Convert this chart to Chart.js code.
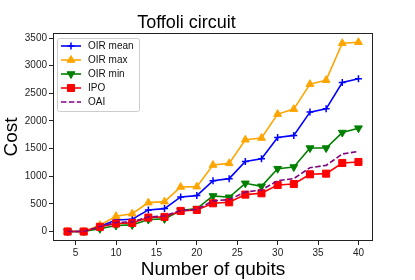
<!DOCTYPE html>
<html>
<head>
<meta charset="utf-8">
<script src="https://cdn.jsdelivr.net/npm/chart.js@4/dist/chart.umd.min.js"></script>
<style>
  body { margin: 0; background: #fff; }
</style>
</head>
<body>
<canvas id="chart" width="415" height="280"></canvas>
<script>
// number of qubits on the x axis
const qubits = [4, 6, 8, 10, 12, 14, 16, 18, 20, 22, 24, 26, 28, 30, 32, 34, 36, 38, 40];
const xTicks = [5, 10, 15, 20, 25, 30, 35, 40];
const yTicks = [0, 500, 1000, 1500, 2000, 2500, 3000, 3500];

// cost per method
const oirMean = [0, 0, 95, 210, 222, 391, 415, 626, 650, 920, 957, 1269, 1318, 1702, 1739, 2160, 2220, 2695, 2762];
const oirMax = [0, 0, 115, 277, 322, 523, 541, 806, 812, 1203, 1233, 1660, 1691, 2124, 2214, 2666, 2738, 3405, 3424];
const oirMin = [0, 0, 50, 110, 120, 217, 229, 379, 415, 644, 620, 872, 818, 1137, 1167, 1510, 1510, 1790, 1870];
const ipo = [0, 0, 85, 145, 156, 253, 265, 373, 391, 511, 529, 668, 692, 842, 860, 1035, 1047, 1240, 1258];
const oai = [0, 0, 90, 165, 175, 265, 280, 380, 400, 555, 578, 716, 752, 920, 957, 1155, 1197, 1402, 1450];

Chart.defaults.font.family = "'Liberation Sans', Arial, sans-serif";
Chart.defaults.color = '#222';

const toPoints = ys => ys.map((y, i) => ({ x: qubits[i], y: y }));

function series(label, data, color, style, radius, extra) {
  return Object.assign({
    label: label,
    data: toPoints(data),
    borderColor: color,
    backgroundColor: color,
    borderWidth: 1.6,
    pointStyle: style,
    pointRadius: radius,
    pointBorderWidth: 1,
    pointBackgroundColor: color,
    pointBorderColor: color,
    pointHoverRadius: radius,
    tension: 0
  }, extra || {});
}

const datasets = [
  series('OIR mean', oirMean, '#0000ff', 'cross', 3.5, { order: 5, pointBorderWidth: 1.5 }),
  series('OIR max', oirMax, '#ffa500', 'triangle', 4.5, { order: 4 }),
  series('OIR min', oirMin, '#008000', 'triangle', 4.5, { order: 3, pointRotation: 180 }),
  series('IPO', ipo, '#ff0000', 'rect', 5, { order: 2 }),
  series('OAI', oai, '#800080', false, 0, { order: 1, borderDash: [5.5, 2.4] })
];

// axes frame like matplotlib spines
const framePlugin = {
  id: 'frame',
  afterDatasetsDraw(chart) {
    const a = chart.chartArea, ctx = chart.ctx;
    ctx.save();
    ctx.strokeStyle = '#222';
    ctx.lineWidth = 1;
    ctx.strokeRect(a.left + 0.5, a.top + 0.5, a.right - a.left - 1, a.bottom - a.top - 1);
    ctx.restore();
  }
};

function marker(ctx, ds, x, y) {
  const r = ds.pointRadius;
  ctx.fillStyle = ds.pointBackgroundColor;
  ctx.strokeStyle = ds.pointBorderColor;
  ctx.lineWidth = ds.pointBorderWidth;
  ctx.setLineDash([]);
  ctx.beginPath();
  if (ds.pointStyle === 'rect') {
    const s = Math.SQRT1_2 * r;
    ctx.rect(x - s, y - s, 2 * s, 2 * s);
    ctx.fill(); ctx.stroke();
  } else if (ds.pointStyle === 'triangle') {
    const d = ds.pointRotation === 180 ? -1 : 1;
    ctx.moveTo(x, y - d * r);
    ctx.lineTo(x + r * 0.866, y + d * r * 0.5);
    ctx.lineTo(x - r * 0.866, y + d * r * 0.5);
    ctx.closePath();
    ctx.fill(); ctx.stroke();
  } else if (ds.pointStyle === 'cross') {
    ctx.moveTo(x - r, y); ctx.lineTo(x + r, y);
    ctx.moveTo(x, y - r); ctx.lineTo(x, y + r);
    ctx.stroke();
  }
}

// legend drawn inside the axes, upper left
const legendPlugin = {
  id: 'innerLegend',
  afterDraw(chart) {
    const ctx = chart.ctx;
    const bx = 57, by = 38, bw = 82, bh = 73;
    ctx.save();
    ctx.fillStyle = 'rgba(255,255,255,0.85)';
    ctx.strokeStyle = '#cccccc';
    ctx.lineWidth = 1;
    ctx.beginPath();
    ctx.roundRect(bx + 0.5, by + 0.5, bw, bh, 2);
    ctx.fill(); ctx.stroke();
    ctx.font = "10px 'Liberation Sans', Arial, sans-serif";
    ctx.textBaseline = 'middle';
    chart.data.datasets.forEach((ds, i) => {
      const y = by + 8 + i * 14;
      ctx.strokeStyle = ds.borderColor;
      ctx.lineWidth = ds.borderWidth;
      ctx.setLineDash(ds.borderDash || []);
      ctx.beginPath();
      ctx.moveTo(bx + 4, y); ctx.lineTo(bx + 24, y);
      ctx.stroke();
      if (ds.pointRadius) marker(ctx, ds, bx + 14, y);
      ctx.fillStyle = '#111';
      ctx.fillText(ds.label, bx + 31, y);
    });
    ctx.restore();
  }
};

new Chart(document.getElementById('chart'), {
  type: 'line',
  data: { datasets: datasets },
  options: {
    responsive: false,
    animation: false,
    layout: { padding: { left: 0, right: 42, top: 0, bottom: 0 } },
    plugins: {
      legend: { display: false },
      tooltip: { enabled: false },
      title: {
        display: true,
        text: 'Toffoli circuit',
        color: '#000',
        font: { size: 18, weight: 'normal', lineHeight: 1 },
        padding: { top: 14, bottom: 1 }
      }
    },
    scales: {
      x: {
        type: 'linear',
        min: 2.2,
        max: 41.8,
        afterBuildTicks: s => { s.ticks = xTicks.map(v => ({ value: v })); },
        afterFit: s => { s.height = 39; },
        ticks: { font: { size: 10 }, padding: 2, maxRotation: 0, callback: v => String(v) },
        grid: { drawOnChartArea: false, tickLength: 4, color: '#222' },
        border: { display: false },
        title: {
          display: true,
          text: 'Number of qubits',
          color: '#000',
          font: { size: 19, lineHeight: 1 },
          padding: { top: 0, bottom: 1 }
        }
      },
      y: {
        type: 'linear',
        min: -171,
        max: 3591,
        afterBuildTicks: s => { s.ticks = yTicks.map(v => ({ value: v })); },
        afterFit: s => { s.width = 53; },
        ticks: { font: { size: 10 }, padding: 2, callback: v => String(v) },
        grid: { drawOnChartArea: false, tickLength: 4, color: '#222' },
        border: { display: false },
        title: {
          display: true,
          text: 'Cost',
          color: '#000',
          font: { size: 19, lineHeight: 1 },
          padding: { top: 2, bottom: 0 }
        }
      }
    }
  },
  plugins: [framePlugin, legendPlugin]
});
</script>
</body>
</html>
